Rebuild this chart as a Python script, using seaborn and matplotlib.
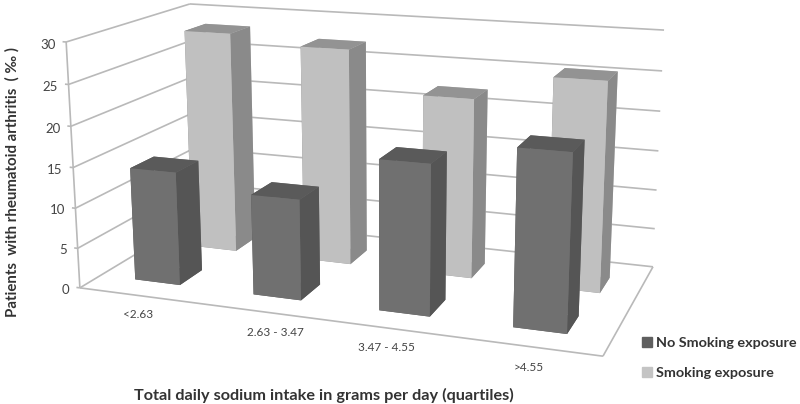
import numpy as np
import matplotlib
matplotlib.use("Agg")
import matplotlib.pyplot as plt
from matplotlib.patches import Patch
from mpl_toolkits.mplot3d.art3d import Line3DCollection
import seaborn as sns

categories = ["<2.63", "2.63 - 3.47", "3.47 - 4.55", ">4.55"]
no_smoking = [14.1, 12.3, 18.0, 20.7]
smoking = [28.5, 27.45, 22.45, 25.75]
z_ticks = [0, 5, 10, 15, 20, 25, 30]
series_names = ["No Smoking exposure", "Smoking exposure"]
label_x = [0.69, 1.77, 2.59, 3.58]

sns.set_theme(style="white")
plt.rcParams['font.family'] = ['Lato', 'DejaVu Sans']

W, H = 800, 404
fig = plt.figure(figsize=(W/100, H/100), dpi=100)
ax = fig.add_axes([0, -(W-H)/2/H, 1, W/H], projection='3d', computed_zorder=False)
ax.set_axis_off()

# camera calibration: world (category, depth, value) -> pixel
calib = [((0,0,0),(80,288)), ((4,0,0),(603,356)), ((4,1,0),(653,267)), ((0,1,0),(197,217)),
         ((0,0,30),(66,42)), ((0,1,30),(190,4)), ((4,1,30),(664,30))]
rows = []
for (X, Y, Z), (u, v) in calib:
    rows.append([X,Y,Z,1,0,0,0,0,-u*X,-u*Y,-u*Z,-u])
    rows.append([0,0,0,0,X,Y,Z,1,-v*X,-v*Y,-v*Z,-v])
P = np.linalg.svd(np.array(rows, float))[2][-1].reshape(3, 4)
P = P / P[2, 3]
depth = np.array([-0.05, 0.5, -0.002, 0.5])

def get_proj():
    A = ax.transData.inverted().get_matrix() @ np.array([[1,0,0],[0,-1,H],[0,0,1.]])
    return np.vstack([A[0] @ P, A[1] @ P, depth, P[2]])
ax.get_proj = get_proj

grid = "#b9b9b9"
segs = []
for z in z_ticks:
    segs.append([(0,0,z),(0,1,z)])
    segs.append([(0,1,z),(4,1,z)])
    segs.append([(-0.03,0,z),(0,0,z)])
    ax.text(-0.09, 0, z-0.4, str(z), ha='right', va='center', color="#444444", fontsize=9.5)
segs.append([(0,0,0),(0,0,30)])
segs.append([(0,0,0),(4,0,0)])
segs.append([(4,0,0),(4,1,0)])
ax.add_collection3d(Line3DCollection(segs, colors=grid, linewidths=1.2, zorder=1))

dark_faces = ["#5a5a5a","#5a5a5a","#707070","#707070","#555555","#555555"]
light_faces = ["#939393","#939393","#c0c0c0","#c0c0c0","#8a8a8a","#8a8a8a"]
bd = 0.19
for i, v in enumerate(smoking):
    ax.bar3d(i+0.33, 0.62, 0, 0.40, bd, v, color=light_faces, shade=False, zorder=2, linewidth=0)
for i, v in enumerate(no_smoking):
    ax.bar3d(i+0.30, 0.16, 0, 0.385, bd, v, color=dark_faces, shade=False, zorder=3, linewidth=0)
for x, c in zip(label_x, categories):
    ax.text(x, -0.18, 0, c, ha='center', va='center', color="#444444", fontsize=8.5)

fig.text(12/W, 1-182/H, "Patients  with rheumatoid arthritis  ( ‰ )", rotation=90, ha='center', va='center',
         fontweight='bold', fontsize=10.8, color="#333333")
fig.text(323.5/W, 1-395/H, "Total daily sodium intake in grams per day (quartiles)", ha='center', va='center',
         fontweight='bold', fontsize=11.7, color="#333333")
handles = [Patch(color="#5f5f5f", label=series_names[0]), Patch(color="#c4c4c4", label=series_names[1])]
fig.legend(handles=handles, loc='center left', bbox_to_anchor=(642/W, 1-358/H), frameon=False,
           prop={'weight':'bold','size':10.4}, labelcolor="#333333", handlelength=0.7, handleheight=0.7,
           handletextpad=0.25, labelspacing=1.2, borderpad=0, borderaxespad=0)
fig.savefig("out.png", dpi=100)
